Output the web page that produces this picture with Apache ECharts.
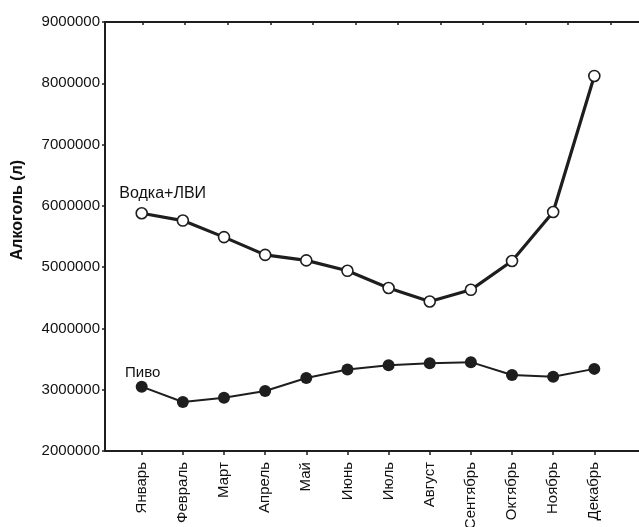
<!DOCTYPE html>
<html>
<head>
<meta charset="utf-8">
<script src="https://cdn.jsdelivr.net/npm/echarts@6/dist/echarts.min.js"></script>
<style>
  html, body { margin: 0; padding: 0; background: #fff; }
  #chart { width: 639px; height: 527px; }
</style>
</head>
<body>
<div id="chart"></div>
<script>
// Monthly alcohol sales, litres
const months = ['Январь', 'Февраль', 'Март', 'Апрель', 'Май', 'Июнь',
                'Июль', 'Август', 'Сентябрь', 'Октябрь', 'Ноябрь', 'Декабрь'];
const vodka = [5880000, 5760000, 5490000, 5200000, 5110000, 4940000,
               4660000, 4440000, 4630000, 5100000, 5900000, 8120000];
const beer = [3050000, 2800000, 2870000, 2980000, 3190000, 3330000,
              3400000, 3430000, 3450000, 3240000, 3210000, 3340000];
const seriesNames = ['Водка+ЛВИ', 'Пиво'];
const yTicks = [2000000, 3000000, 4000000, 5000000, 6000000, 7000000, 8000000, 9000000];

const ink = '#1e1e1e';
const textInk = '#111';
const font = 'Liberation Sans, Arial, sans-serif';
const idx = months.map((m, i) => i);

const chart = echarts.init(document.getElementById('chart'), null, { renderer: 'canvas' });

function pairs(values) {
  return values.map((v, i) => [i, v]);
}

chart.setOption({
  animation: false,
  backgroundColor: '#fff',
  grid: { left: 105, right: 0, top: 22, bottom: 76, containLabel: false,
          outerBoundsMode: 'none' },
  xAxis: [
    {
      type: 'value',
      position: 'bottom',
      min: -0.892,
      max: 12.086,
      axisLine: { show: true, onZero: false, lineStyle: { color: ink, width: 2 } },
      axisTick: { show: true, customValues: idx, length: 4, inside: false,
                  lineStyle: { color: ink, width: 1.5 } },
      axisLabel: {
        show: true, customValues: idx, rotate: 90, margin: 11,
        color: textInk, fontFamily: font, fontSize: 15,
        formatter: v => months[Math.round(v)]
      },
      splitLine: { show: false }
    },
    {
      type: 'value',
      position: 'top',
      min: -0.886,
      max: 11.665,
      axisLine: { show: true, onZero: false, lineStyle: { color: ink, width: 2 } },
      axisTick: { show: true, customValues: idx, length: 3, inside: true,
                  lineStyle: { color: ink, width: 1.5 } },
      axisLabel: { show: false },
      splitLine: { show: false }
    }
  ],
  yAxis: {
    type: 'value',
    min: yTicks[0],
    max: yTicks[yTicks.length - 1],
    interval: 1000000,
    axisLine: { show: true, onZero: false, lineStyle: { color: ink, width: 2 } },
    axisTick: { show: true, length: 3, lineStyle: { color: ink, width: 1.5 } },
    axisLabel: { color: textInk, fontFamily: font, fontSize: 15, margin: 5,
                 formatter: v => String(v) },
    splitLine: { show: false }
  },
  series: [
    {
      name: seriesNames[0],
      type: 'line',
      xAxisIndex: 0,
      data: pairs(vodka),
      symbol: 'circle',
      symbolSize: 11,
      showAllSymbol: true,
      lineStyle: { color: ink, width: 3.2 },
      itemStyle: { color: '#fff', borderColor: ink, borderWidth: 1.6 },
      z: 3
    },
    {
      name: seriesNames[1],
      type: 'line',
      xAxisIndex: 0,
      data: pairs(beer),
      symbol: 'circle',
      symbolSize: 12,
      showAllSymbol: true,
      lineStyle: { color: ink, width: 2 },
      itemStyle: { color: ink, borderColor: ink, borderWidth: 0 },
      z: 3
    }
  ]
});

// Axis title and series name tags placed beside each line's first point
function placeTags() {
  const p1 = chart.convertToPixel({ xAxisIndex: 0, yAxisIndex: 0 }, [0, vodka[0]]);
  const p2 = chart.convertToPixel({ xAxisIndex: 0, yAxisIndex: 0 }, [0, beer[0]]);
  chart.setOption({
    graphic: [
      {
        type: 'text',
        x: 18, y: 210, rotation: Math.PI / 2,
        style: { text: 'Алкоголь (л)', fill: textInk, font: 'bold 16px ' + font,
                 align: 'center', verticalAlign: 'middle' }
      },
      {
        type: 'text',
        x: p1[0] + 21, y: p1[1] - 20,
        style: { text: seriesNames[0], fill: textInk, font: '16px ' + font,
                 align: 'center', verticalAlign: 'middle' }
      },
      {
        type: 'text',
        x: p2[0] + 1, y: p2[1] - 14,
        style: { text: seriesNames[1], fill: textInk, font: '15px ' + font,
                 align: 'center', verticalAlign: 'middle' }
      }
    ]
  }, { replaceMerge: ['graphic'] });
}
placeTags();
</script>
</body>
</html>
